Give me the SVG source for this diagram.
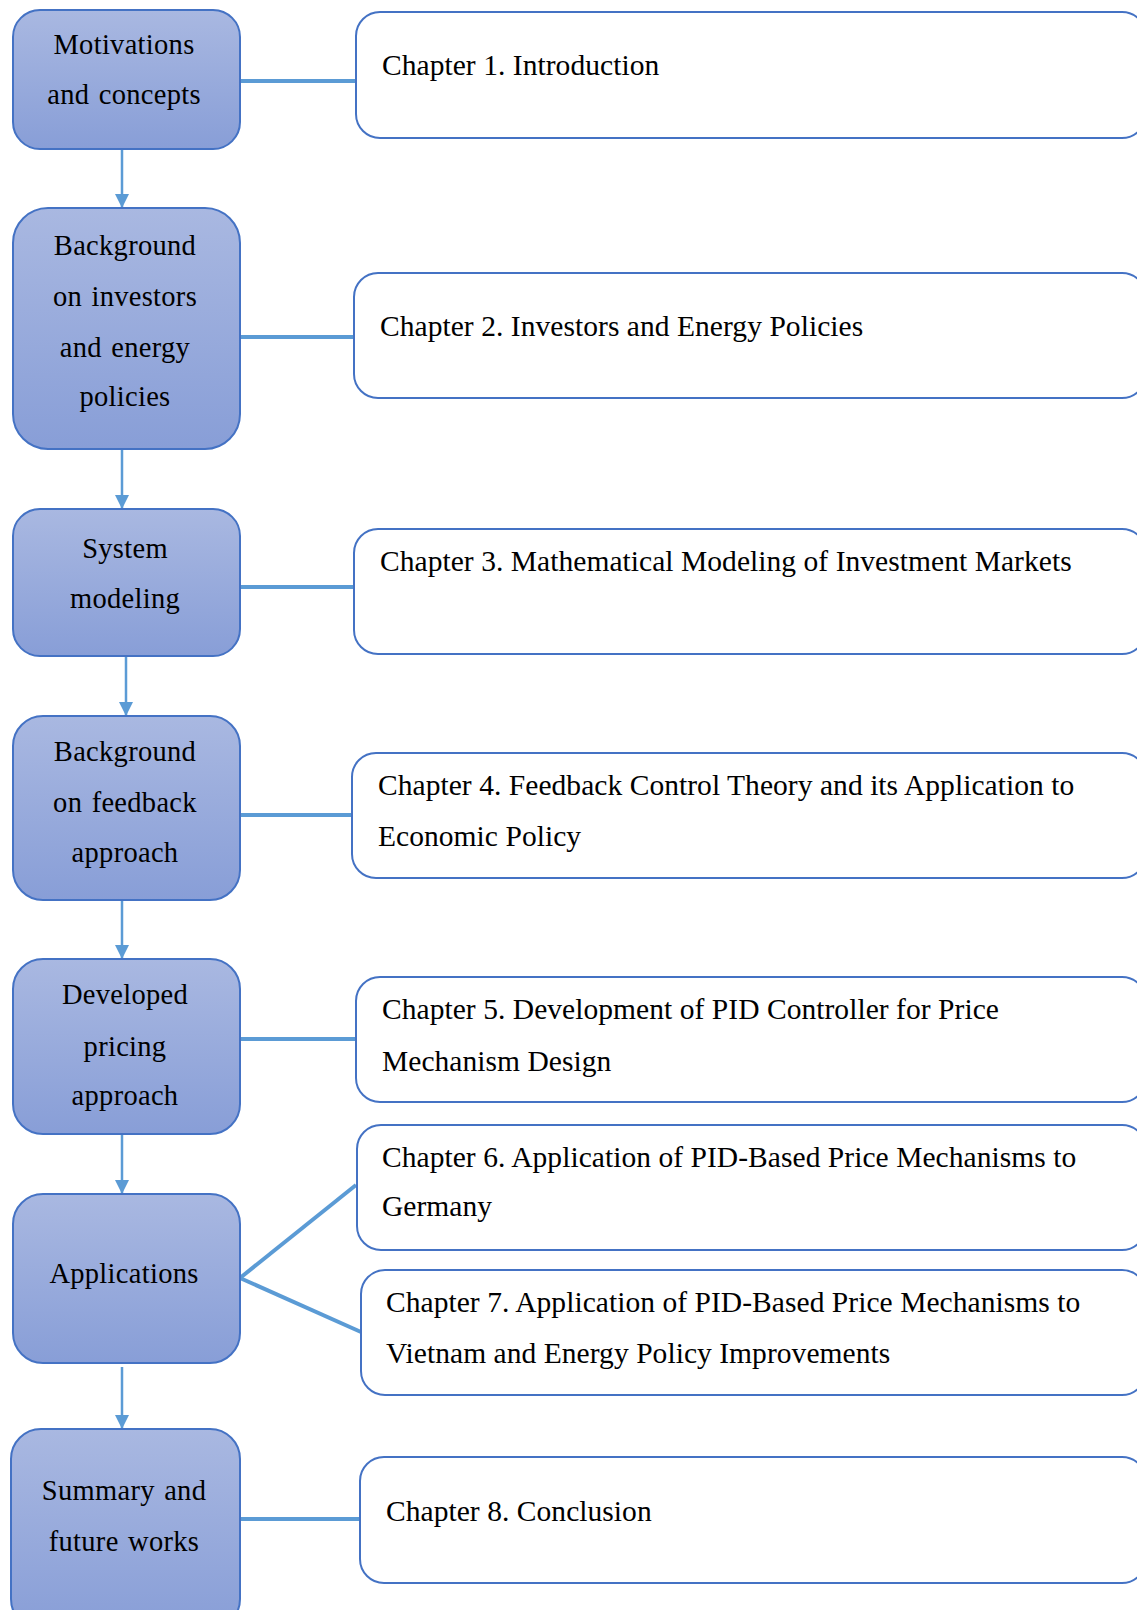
<svg xmlns="http://www.w3.org/2000/svg" width="1137" height="1610" viewBox="0 0 1137 1610">
  <defs>
    <linearGradient id="stageFill" x1="0" y1="0" x2="0" y2="1">
      <stop offset="0" stop-color="#A9B8E1"/>
      <stop offset="1" stop-color="#889ED7"/>
    </linearGradient>
    <marker id="arrowHead" viewBox="0 0 14 14" refX="14" refY="7" markerWidth="14" markerHeight="14" markerUnits="userSpaceOnUse" orient="auto">
      <path d="M0,0 L14,7 L0,14 Z" fill="#5B9BD5"/>
    </marker>
    <style>
      .stage { fill: url(#stageFill); stroke: #4472C4; stroke-width: 2; }
      .chapter { fill: #FFFFFF; stroke: #4472C4; stroke-width: 2; }
      .stage-text { font-family: "Liberation Serif", "Times New Roman", serif; font-size: 28.5px; letter-spacing: 0.3px; word-spacing: 2px; fill: #000; text-anchor: middle; }
      .chapter-text { font-family: "Liberation Serif", "Times New Roman", serif; font-size: 29.5px; letter-spacing: 0.05px; fill: #000; }
      .link { stroke: #5B9BD5; stroke-width: 4; fill: none; }
      .flow { stroke: #5B9BD5; stroke-width: 2.5; fill: none; marker-end: url(#arrowHead); }
    </style>
  </defs>
  <rect width="1137" height="1610" fill="#FFFFFF"/>

  <!-- connectors -->
  <g id="connectors">
    <line class="flow" x1="122" y1="149" x2="122" y2="208"/>
    <line class="flow" x1="122" y1="449" x2="122" y2="509"/>
    <line class="flow" x1="126" y1="656" x2="126" y2="716"/>
    <line class="flow" x1="122" y1="900" x2="122" y2="959"/>
    <line class="flow" x1="122" y1="1134" x2="122" y2="1194"/>
    <line class="flow" x1="122" y1="1367" x2="122" y2="1429"/>

    <line class="link" x1="240" y1="81" x2="356" y2="81"/>
    <line class="link" x1="240" y1="337" x2="354" y2="337"/>
    <line class="link" x1="240" y1="587" x2="354" y2="587"/>
    <line class="link" x1="240" y1="815" x2="352" y2="815"/>
    <line class="link" x1="240" y1="1039" x2="356" y2="1039"/>
    <line class="link" x1="240" y1="1278" x2="356" y2="1185"/>
    <line class="link" x1="240" y1="1278" x2="361" y2="1332"/>
    <line class="link" x1="240" y1="1519" x2="360" y2="1519"/>
  </g>

  <!-- stages -->
  <g id="stage-motivations">
    <rect class="stage" x="13" y="10" width="227" height="139" rx="27"/>
    <text class="stage-text" x="124" y="54">Motivations</text>
    <text class="stage-text" x="124" y="104">and concepts</text>
  </g>
  <g id="stage-background-investors">
    <rect class="stage" x="13" y="208" width="227" height="241" rx="35"/>
    <text class="stage-text" x="125" y="255">Background</text>
    <text class="stage-text" x="125" y="306">on investors</text>
    <text class="stage-text" x="125" y="357">and energy</text>
    <text class="stage-text" x="125" y="406">policies</text>
  </g>
  <g id="stage-system-modeling">
    <rect class="stage" x="13" y="509" width="227" height="147" rx="27"/>
    <text class="stage-text" x="125" y="558">System</text>
    <text class="stage-text" x="125" y="608">modeling</text>
  </g>
  <g id="stage-background-feedback">
    <rect class="stage" x="13" y="716" width="227" height="184" rx="30"/>
    <text class="stage-text" x="125" y="761">Background</text>
    <text class="stage-text" x="125" y="812">on feedback</text>
    <text class="stage-text" x="125" y="862">approach</text>
  </g>
  <g id="stage-pricing">
    <rect class="stage" x="13" y="959" width="227" height="175" rx="30"/>
    <text class="stage-text" x="125" y="1004">Developed</text>
    <text class="stage-text" x="125" y="1056">pricing</text>
    <text class="stage-text" x="125" y="1105">approach</text>
  </g>
  <g id="stage-applications">
    <rect class="stage" x="13" y="1194" width="227" height="169" rx="30"/>
    <text class="stage-text" x="124" y="1283">Applications</text>
  </g>
  <g id="stage-summary">
    <rect class="stage" x="11" y="1429" width="229" height="200" rx="30"/>
    <text class="stage-text" x="124" y="1500">Summary and</text>
    <text class="stage-text" x="124" y="1551">future works</text>
  </g>

  <!-- chapters -->
  <g id="chapter-1">
    <rect class="chapter" x="356" y="12" width="790" height="126" rx="24"/>
    <text class="chapter-text" x="382" y="75">Chapter 1. Introduction</text>
  </g>
  <g id="chapter-2">
    <rect class="chapter" x="354" y="273" width="792" height="125" rx="24"/>
    <text class="chapter-text" x="380" y="336">Chapter 2. Investors and Energy Policies</text>
  </g>
  <g id="chapter-3">
    <rect class="chapter" x="354" y="529" width="792" height="125" rx="24"/>
    <text class="chapter-text" x="380" y="571">Chapter 3. Mathematical Modeling of Investment Markets</text>
  </g>
  <g id="chapter-4">
    <rect class="chapter" x="352" y="753" width="794" height="125" rx="24"/>
    <text class="chapter-text" x="378" y="795">Chapter 4. Feedback Control Theory and its Application to</text>
    <text class="chapter-text" x="378" y="846">Economic Policy</text>
  </g>
  <g id="chapter-5">
    <rect class="chapter" x="356" y="977" width="790" height="125" rx="24"/>
    <text class="chapter-text" x="382" y="1019">Chapter 5. Development of PID Controller for Price</text>
    <text class="chapter-text" x="382" y="1071">Mechanism Design</text>
  </g>
  <g id="chapter-6">
    <rect class="chapter" x="357" y="1125" width="789" height="125" rx="24"/>
    <text class="chapter-text" x="382" y="1167">Chapter 6. Application of PID-Based Price Mechanisms to</text>
    <text class="chapter-text" x="382" y="1216">Germany</text>
  </g>
  <g id="chapter-7">
    <rect class="chapter" x="361" y="1270" width="785" height="125" rx="24"/>
    <text class="chapter-text" x="386" y="1312">Chapter 7. Application of PID-Based Price Mechanisms to</text>
    <text class="chapter-text" x="386" y="1363">Vietnam and Energy Policy Improvements</text>
  </g>
  <g id="chapter-8">
    <rect class="chapter" x="360" y="1457" width="786" height="126" rx="24"/>
    <text class="chapter-text" x="386" y="1521">Chapter 8. Conclusion</text>
  </g>
</svg>
